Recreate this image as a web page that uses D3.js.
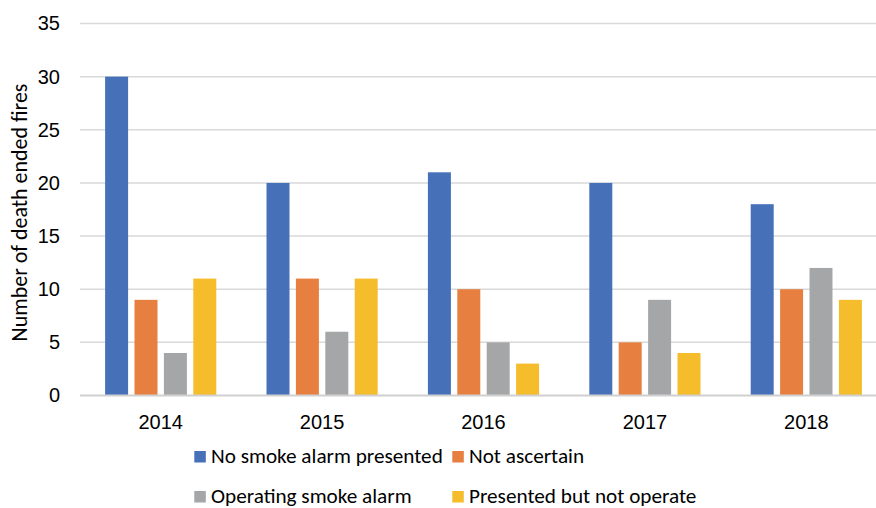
<!DOCTYPE html>
<html>
<head>
<meta charset="utf-8">
<script src="https://cdn.jsdelivr.net/npm/d3@7"></script>
<style>
  html, body { margin: 0; padding: 0; background: #fff; }
  svg { display: block; font-family: Carlito, Lato, "Liberation Sans", Arial, sans-serif; }
</style>
</head>
<body>
<svg id="chart" width="876" height="508"></svg>
<script>
// Fire deaths by smoke alarm status, 2014–2018
const years = ["2014", "2015", "2016", "2017", "2018"];
const seriesNames = ["No smoke alarm presented", "Not ascertain", "Operating smoke alarm", "Presented but not operate"];
const noAlarm      = [30, 20, 21, 20, 18];
const notAscertain = [9, 11, 10, 5, 10];
const operating    = [4, 6, 5, 9, 12];
const notOperate   = [11, 11, 3, 4, 9];
const yTicks = [0, 5, 10, 15, 20, 25, 30, 35];
const colors = ["#4671B9", "#E67F3F", "#A5A6A8", "#F5BD2C"];

const seriesValues = [noAlarm, notAscertain, operating, notOperate];
const FONT = 20;

const svg = d3.select("#chart");
const plot = { left: 80, right: 887, top: 23.5, bottom: 395.5 };

const x = d3.scaleBand().domain(years).range([plot.left, plot.right]);
const xInner = d3.scaleBand().domain(seriesNames).range([0, x.bandwidth()]).paddingInner(0.218).paddingOuter(0.854);
const y = d3.scaleLinear().domain([0, 35]).range([plot.bottom, plot.top]);

// scale a text's font so its run spans the given width
function fitFont(sel, width) {
  const w = sel.node().getComputedTextLength();
  const size = FONT * width / w;
  sel.attr("font-size", size);
  return size;
}

// horizontal gridlines
svg.append("g")
  .selectAll("line")
  .data(yTicks.filter(t => t > 0))
  .join("line")
  .attr("x1", plot.left).attr("x2", plot.right)
  .attr("y1", d => y(d)).attr("y2", d => y(d))
  .attr("stroke", "#D9D9D9").attr("stroke-width", 1.5);

// y axis labels
const yAxis = d3.axisLeft(y).tickValues(yTicks).tickSize(0).tickPadding(20);
const yg = svg.append("g").attr("transform", `translate(${plot.left},0)`).call(yAxis);
yg.select(".domain").remove();
yg.selectAll("text").attr("font-size", FONT).attr("fill", "#000").attr("font-family", null);

// bars
const groups = svg.append("g").selectAll("g")
  .data(years)
  .join("g")
  .attr("transform", d => `translate(${x(d)},0)`);

groups.selectAll("rect")
  .data((d, i) => seriesNames.map((s, k) => ({ s, v: seriesValues[k][i], k })))
  .join("rect")
  .attr("x", d => xInner(d.s))
  .attr("width", xInner.bandwidth())
  .attr("y", d => y(d.v))
  .attr("height", d => y(0) - y(d.v))
  .attr("fill", d => colors[d.k]);

// baseline
svg.append("line")
  .attr("x1", plot.left).attr("x2", plot.right)
  .attr("y1", y(0)).attr("y2", y(0))
  .attr("stroke", "#D0D0D0").attr("stroke-width", 2);

// x axis labels
const xAxis = d3.axisBottom(x).tickSize(0).tickPadding(19);
const xg = svg.append("g").attr("transform", `translate(0,${plot.bottom})`).call(xAxis);
xg.select(".domain").remove();
xg.selectAll("text").attr("font-size", FONT).attr("fill", "#000").attr("font-family", null);

// y axis title
const title = svg.append("text")
  .attr("transform", `translate(27,212.5) rotate(-90)`)
  .attr("text-anchor", "middle")
  .attr("font-size", FONT)
  .attr("fill", "#000")
  .text("Number of death ended fires");
fitFont(title, 258);

// legend
const legendPos = [
  { x: 194.3, y: 463.3 }, { x: 452.3, y: 463.3 },
  { x: 194.3, y: 503.3 }, { x: 452.3, y: 503.3 }
];
const lg = svg.append("g").selectAll("g")
  .data(seriesNames)
  .join("g")
  .attr("transform", (d, i) => `translate(${legendPos[i].x},${legendPos[i].y})`);
lg.append("rect")
  .attr("x", 0).attr("y", -12.3).attr("width", 11.5).attr("height", 11.5)
  .attr("fill", (d, i) => colors[i]);
const legendText = lg.append("text")
  .attr("x", 16.7).attr("y", 0)
  .attr("font-size", FONT).attr("fill", "#000")
  .text(d => d);
const legendSize = fitFont(d3.select(legendText.nodes()[0]), 232);
legendText.attr("font-size", legendSize);
</script>
</body>
</html>
